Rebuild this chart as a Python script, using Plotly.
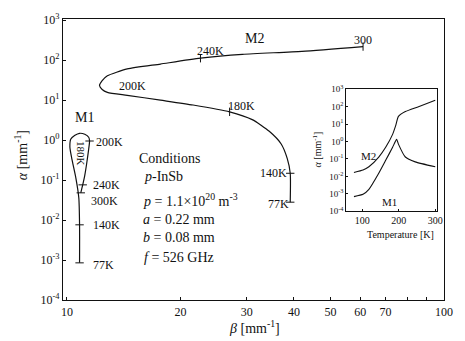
import plotly.graph_objects as go
import math

# ---- main chart data (beta [mm^-1], alpha [mm^-1]) ----
m1_beta = [10.8, 10.8, 10.75, 10.56, 10.3, 10.18, 10.24, 10.5, 10.8, 11.15, 11.42, 11.48, 11.42, 11.28, 11.15, 11.01, 10.88]
m1_alpha = [0.00085, 0.0076, 0.036, 0.112, 0.344, 0.675, 1.06, 1.32, 1.48, 1.40, 1.18, 0.95, 0.60, 0.26, 0.132, 0.076, 0.048]

m2_beta = [39.1, 39.1, 38.4, 37.0, 34.4, 31.0, 27.0, 21.6, 17.7, 14.45, 12.8, 12.4, 12.2, 12.4, 12.8, 14.45, 17.7, 22.6, 29.2, 42.0, 61.0]
m2_alpha = [0.028, 0.148, 0.344, 0.80, 1.66, 3.25, 5.1, 7.55, 10.0, 13.2, 15.7, 18.5, 23.2, 30.8, 40.7, 60.3, 80, 112, 140, 166, 219]

# temperature tick marks on the curves
m1_tick_beta = [10.8, 10.8, 11.48, 11.01, 10.88]
m1_tick_alpha = [0.00085, 0.0076, 0.95, 0.076, 0.048]
m2_tickv_beta = [39.1, 39.1]
m2_tickv_alpha = [0.028, 0.148]
m2_tickh_beta = [22.6, 27.0, 61.0]
m2_tickh_alpha = [112, 5.1, 219]

# ---- inset data (temperature [K], alpha [mm^-1]) ----
in_T_m2 = [77, 102, 118, 145, 164, 183, 191, 199, 218, 254, 300]
in_a_m2 = [0.0166, 0.0229, 0.0355, 0.129, 0.468, 2.57, 7.6, 27.5, 52.5, 100, 234]
in_T_m1 = [77, 102, 118, 145, 164, 183, 194, 199, 218, 245, 300]
in_a_m1 = [0.00069, 0.00093, 0.00178, 0.0151, 0.083, 0.468, 1.35, 0.71, 0.129, 0.068, 0.0355]

x_ticks = [10, 20, 30, 40, 50, 60, 70, 80, 90, 100]
x_ticktext = ["10", "20", "30", "40", "50", "60", "70", "", "", "100"]
y_ticks = [1e-4, 1e-3, 1e-2, 1e-1, 1e0, 1e1, 1e2, 1e3]
y_ticktext = ["10<sup>-4</sup>", "10<sup>-3</sup>", "10<sup>-2</sup>", "10<sup>-1</sup>",
              "10<sup>0</sup>", "10<sup>1</sup>", "10<sup>2</sup>", "10<sup>3</sup>"]
in_x_ticks = [100, 200, 300]

FONT = "Liberation Serif"
INK = "#111111"

fig = go.Figure()
line = dict(color=INK, width=1.2)

fig.add_trace(go.Scatter(x=m1_beta, y=m1_alpha, mode="lines", line=dict(shape="spline", smoothing=0.6, **line),
                         showlegend=False, hoverinfo="skip"))
fig.add_trace(go.Scatter(x=m2_beta, y=m2_alpha, mode="lines", line=dict(shape="spline", smoothing=0.6, **line),
                         showlegend=False, hoverinfo="skip"))
fig.add_trace(go.Scatter(x=m1_tick_beta + m2_tickv_beta, y=m1_tick_alpha + m2_tickv_alpha, mode="markers",
                         marker=dict(symbol="line-ew-open", size=6, color=INK, line=dict(color=INK, width=1)),
                         showlegend=False, hoverinfo="skip"))
fig.add_trace(go.Scatter(x=m2_tickh_beta, y=m2_tickh_alpha, mode="markers",
                         marker=dict(symbol="line-ns-open", size=6, color=INK, line=dict(color=INK, width=1)),
                         showlegend=False, hoverinfo="skip"))

fig.add_trace(go.Scatter(x=in_T_m2, y=in_a_m2, mode="lines", xaxis="x2", yaxis="y2",
                         line=dict(shape="spline", smoothing=0.5, color=INK, width=1.1),
                         showlegend=False, hoverinfo="skip"))
fig.add_trace(go.Scatter(x=in_T_m1, y=in_a_m1, mode="lines", xaxis="x2", yaxis="y2",
                         line=dict(shape="spline", smoothing=0.5, color=INK, width=1.1),
                         showlegend=False, hoverinfo="skip"))

# geometry
L, R, T, B = 63, 16, 12, 41
W, H = 465, 341
PW, PH = W - L - R, H - T - B


def px(x):
    return (x - L) / PW


def py(y):
    return (T + PH - y) / PH


axis_common = dict(showline=True, linecolor=INK, linewidth=1.2, mirror=True, ticks="inside",
                   tickcolor=INK, ticklen=3, showgrid=False, zeroline=False,
                   tickfont=dict(family=FONT, size=12, color=INK))

fig.update_layout(
    width=W, height=H, margin=dict(l=L, r=R, t=T, b=B),
    paper_bgcolor="white", plot_bgcolor="white",
    font=dict(family=FONT, color=INK),
    xaxis=dict(type="log", range=[0.9895, 2.0], tickvals=x_ticks, ticktext=x_ticktext, **axis_common),
    yaxis=dict(type="log", range=[-4, 3.03], tickvals=y_ticks, ticktext=y_ticktext, **axis_common),
    xaxis2=dict(domain=[px(350), px(442)], anchor="y2", range=[56, 305], tickvals=in_x_ticks,
                **{**axis_common, "tickfont": dict(family=FONT, size=10, color=INK), "ticklen": 2}),
    yaxis2=dict(domain=[py(209), py(84)], anchor="x2", type="log", range=[-4, 3], tickvals=y_ticks,
                ticktext=y_ticktext,
                **{**axis_common, "tickfont": dict(family=FONT, size=9, color=INK), "ticklen": 2}),
)

ann = []


def label(text, x, y, size=12, xanchor="center", angle=0, ref="x", yref="y"):
    ann.append(dict(text=text, x=x, y=y, xref=ref, yref=yref, showarrow=False, xanchor=xanchor,
                    yanchor="middle", textangle=angle, font=dict(family=FONT, size=size, color=INK)))


# M1 labels (log10 coordinates)
label("M1", 1.047, 0.561, size=14)
label("200K", 1.073, -0.049, xanchor="left")
label("180K", 1.039, -0.341, size=11, angle=90)
label("240K", 1.065, -1.122, xanchor="left")
label("300K", 1.058, -1.512, xanchor="left")
label("140K", 1.063, -2.122, xanchor="left")
label("77K", 1.065, -3.122, xanchor="left")
# M2 labels
label("M2", 1.497, 2.537, size=14)
label("300", 1.785, 2.512)
label("240K", 1.380, 2.22)
label("200K", 1.175, 1.366)
label("180K", 1.463, 0.854)
label("140K", 1.547, -0.829)
label("77K", 1.560, -1.60)
# inset labels
label("M2", 116, math.log10(0.15), size=11, ref="x2", yref="y2")
label("M1", 175, math.log10(0.00035), size=11, ref="x2", yref="y2")

# conditions block
cond = [("Conditions", 138, 155), ("<i>p</i>-InSb", 143, 173),
        ("<i>p</i> = 1.1×10<sup>20</sup> m<sup>-3</sup>", 142, 197),
        ("<i>a</i> = 0.22 mm", 142, 217), ("<i>b</i> = 0.08 mm", 142, 236), ("<i>f</i> = 526 GHz", 143, 256)]
for t, x, y in cond:
    label(t, px(x), py(y), size=14, xanchor="left", ref="paper", yref="paper")

# axis titles
label("<i>α</i> [mm<sup>-1</sup>]", px(20), py(152), size=14, angle=-90, ref="paper", yref="paper")
label("<i>β</i> [mm<sup>-1</sup>]", px(257), py(328), size=14, ref="paper", yref="paper")
label("Temperature [K]", px(405), py(233), size=10, ref="paper", yref="paper")
label("<i>α</i> [mm<sup>-1</sup>]", px(320), py(146), size=10, angle=-90, ref="paper", yref="paper")

fig.update_layout(annotations=ann)
fig.write_html("out.html")
